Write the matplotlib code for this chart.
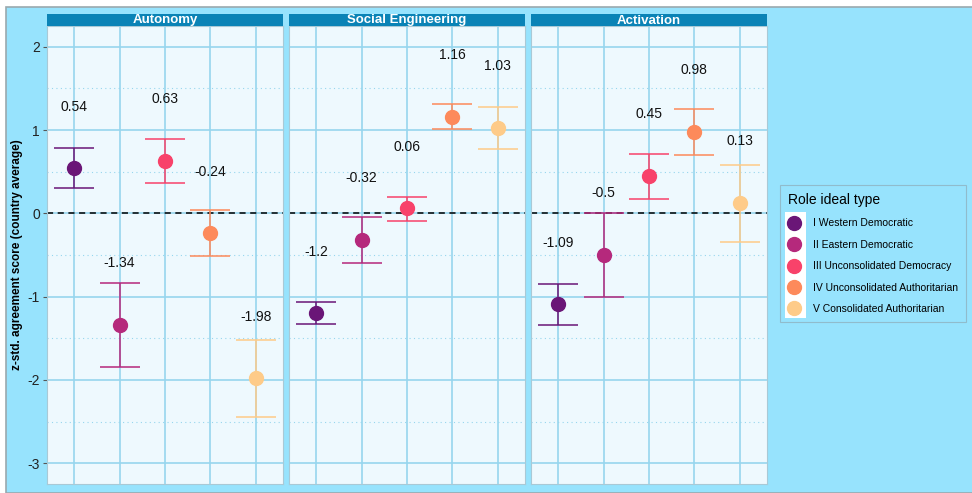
import numpy as np
import matplotlib
matplotlib.use("Agg")
from matplotlib import pyplot as plt
from matplotlib.lines import Line2D
from matplotlib.patches import Rectangle

plt.rcParams["font.family"] = ["Liberation Sans", "DejaVu Sans"]
plt.rcParams["axes.unicode_minus"] = False

facets = ["Autonomy", "Social Engineering", "Activation"]
types = ["I Western Democratic", "II Eastern Democratic", "III Unconsolidated Democracy",
         "IV Unconsolidated Authoritarian", "V Consolidated Authoritarian"]
type_colors = ["#6a1677", "#b5297c", "#f8426a", "#fd8a5b", "#fecb89"]

autonomy_mean = [0.54, -1.34, 0.63, -0.24, -1.98]
autonomy_lo = [0.30, -1.84, 0.37, -0.51, -2.44]
autonomy_hi = [0.78, -0.84, 0.89, 0.04, -1.52]

social_mean = [-1.2, -0.32, 0.06, 1.16, 1.03]
social_lo = [-1.33, -0.60, -0.09, 1.01, 0.77]
social_hi = [-1.07, -0.04, 0.20, 1.31, 1.28]

activation_mean = [-1.09, -0.5, 0.45, 0.98, 0.13]
activation_lo = [-1.34, -1.00, 0.17, 0.70, -0.34]
activation_hi = [-0.85, 0.00, 0.71, 1.25, 0.58]

means = [autonomy_mean, social_mean, activation_mean]
lows = [autonomy_lo, social_lo, activation_lo]
highs = [autonomy_hi, social_hi, activation_hi]

BG = "#97e3fd"
PANEL = "#eef9fe"
STRIP = "#0a83b6"
GRID = "#97d6ee"

W, H = 972, 493
fig = plt.figure(figsize=(W / 100, H / 100), dpi=100)
fig.patch.set_facecolor("white")
fig.add_artist(Rectangle((6 / W, 0), 1, 1 - 7 / H, transform=fig.transFigure,
                         facecolor=BG, edgecolor="#9aa9ae", lw=1.2, zorder=0))

panel_left = [47, 289, 531]
panel_w = 236
bottom_px, top_px = 484, 26

for k, name in enumerate(facets):
    ax = fig.add_axes([panel_left[k] / W, 1 - bottom_px / H, panel_w / W, (bottom_px - top_px) / H])
    ax.set_facecolor(PANEL)
    x = np.arange(1, 6)
    ax.set_xlim(0.4, 5.6)
    ax.set_ylim(-3.25, 2.25)
    ax.set_yticks([-3, -2, -1, 0, 1, 2])
    ax.set_yticks([-2.5, -1.5, -0.5, 0.5, 1.5], minor=True)
    ax.set_xticks(x)
    ax.grid(which="major", color=GRID, lw=1.2)
    ax.grid(which="minor", axis="y", color=GRID, lw=0.8, ls=(0, (1, 3)))
    ax.set_axisbelow(True)
    ax.tick_params(axis="x", length=0, labelbottom=False)
    ax.tick_params(axis="y", which="minor", length=0)
    ax.tick_params(axis="y", which="major", length=3, color="#555555", labelsize=10,
                   labelcolor="#222222", pad=2)
    if k > 0:
        ax.tick_params(axis="y", which="major", length=0, labelleft=False)
    for s in ax.spines.values():
        s.set_color("#a9c9d6")
        s.set_linewidth(0.8)

    ax.axhline(0, color="black", ls=(0, (4, 3)), lw=1.1, zorder=2)
    for i in range(5):
        c = type_colors[i]
        ax.vlines(x[i], lows[k][i], highs[k][i], color=c, lw=1.3, alpha=0.85, zorder=3)
        ax.hlines([lows[k][i], highs[k][i]], x[i] - 0.44, x[i] + 0.44, color=c, lw=1.3,
                  alpha=0.85, zorder=3)
        ax.plot(x[i], means[k][i], "o", color=c, ms=10, zorder=4)
        ax.text(x[i], means[k][i] + 0.74, f"{means[k][i]:g}", ha="center", va="center",
                fontsize=10, color="#111111")

    # facet strip
    fig.add_artist(Rectangle((panel_left[k] / W, 1 - top_px / H), panel_w / W, 12 / H,
                             transform=fig.transFigure, facecolor=STRIP, edgecolor="none"))
    fig.text((panel_left[k] + panel_w / 2) / W, 1 - 20.5 / H, name, ha="center", va="center",
             color="white", fontsize=9.5, fontweight="bold")

fig.text(17 / W, 1 - 255 / H, "z-std. agreement score (country average)", rotation=90,
         ha="center", va="center", fontsize=8.5, fontweight="bold")

# legend with white key column
fig.add_artist(Rectangle((785 / W, 1 - 318 / H), 21 / W, 106 / H, transform=fig.transFigure,
                         facecolor="white", edgecolor="none", zorder=1))
handles = [Line2D([], [], marker="o", ls="none", color=c, ms=10) for c in type_colors]
leg = fig.legend(handles, types, title="Role ideal type", loc="upper left",
                 bbox_to_anchor=(780 / W, 1 - 185 / H), borderaxespad=0,
                 fontsize=7.5, title_fontsize=10,
                 frameon=True, fancybox=False, handletextpad=1.3, labelspacing=1.1,
                 borderpad=0.75, handlelength=1.1)
leg.get_frame().set_facecolor("none")
leg.get_frame().set_edgecolor("#8fb3c0")
leg.get_frame().set_linewidth(0.8)
leg._legend_box.align = "left"
leg.set_zorder(5)

fig.savefig("out.png", dpi=100, facecolor=fig.get_facecolor())
